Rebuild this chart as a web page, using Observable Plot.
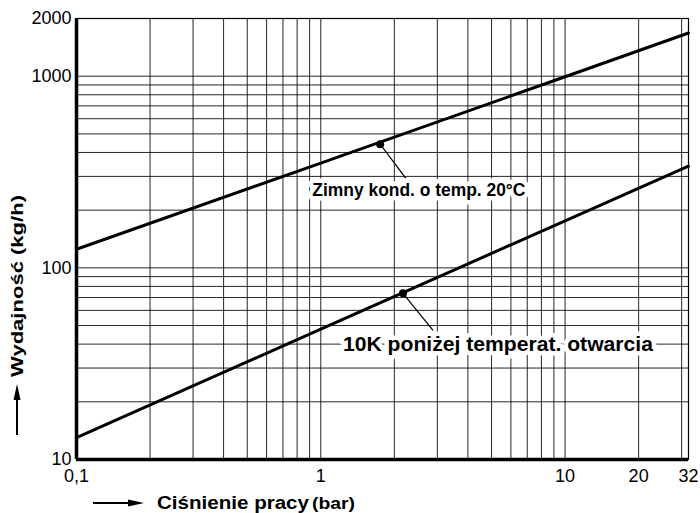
<!DOCTYPE html>
<html>
<head>
<meta charset="utf-8">
<script src="https://cdn.jsdelivr.net/npm/d3@7"></script>
<script src="https://cdn.jsdelivr.net/npm/@observablehq/plot@0.6"></script>
<style>
  html, body { margin: 0; padding: 0; background: #fff; }
  #chart { width: 700px; height: 513px; }
</style>
</head>
<body>
<div id="chart"></div>
<script>
// ---- data ----
const pressure = [0.1, 1, 10, 32];                 // bar
const coldCondensate20C = [125, 352, 993, 1680];   // kg/h
const below10K = [13, 47.9, 176, 339];             // kg/h

const xTicks = [0.1, 1, 10, 20, 32];
const xTickLabels = ["0,1", "1", "10", "20", "32"];
const yTicks = [10, 100, 1000, 2000];
const yTickLabels = ["10", "100", "1000", "2000"];

const xGrid = [0.2,0.3,0.4,0.5,0.6,0.7,0.8,0.9,1,2,3,4,5,6,7,8,9,10,20,30];
const yGrid = [20,30,40,50,60,70,80,90,100,200,300,400,500,600,700,800,900,1000];

const seriesNames = ["Zimny kond. o temp. 20°C", "10K poniżej temperat. otwarcia"];
const markerX = [1.75, 2.17];
const markerY = [442, 73.6];
const leaderEndX = [2.23, 2.88];
const leaderEndY = [293, 47.2];
const labelX = [2.52, 5.31];
const labelY = [254, 39.9];
const labelSize = [17.5, 21];
const labelWidth = [213, 310];

const lineRows = [];
pressure.forEach((p, i) => lineRows.push({s: seriesNames[0], x: p, y: coldCondensate20C[i]}));
pressure.forEach((p, i) => lineRows.push({s: seriesNames[1], x: p, y: below10K[i]}));
const annot = seriesNames.map((s, i) => ({
  s, mx: markerX[i], my: markerY[i], ex: leaderEndX[i], ey: leaderEndY[i],
  lx: labelX[i], ly: labelY[i], fs: labelSize[i], w: labelWidth[i]
}));

const font = "'Liberation Sans', Arial, Helvetica, sans-serif";

const chart = Plot.plot({
  width: 700,
  height: 513,
  marginLeft: 76,
  marginRight: 12,
  marginTop: 18,
  marginBottom: 54,
  style: {fontFamily: font, background: "#fff", color: "#000", overflow: "visible"},
  x: {type: "log", domain: [0.1, 32]},
  y: {type: "log", domain: [10, 2000]},
  marks: [
    Plot.ruleX(xGrid, {stroke: "#000", strokeWidth: 1, strokeOpacity: 0.85}),
    Plot.ruleY(yGrid, {stroke: "#000", strokeWidth: 1, strokeOpacity: 0.85}),
    Plot.frame({stroke: "#000", strokeWidth: 1.2}),
    Plot.ruleX([0.1], {stroke: "#000", strokeWidth: 3.5}),
    Plot.ruleY([10], {stroke: "#000", strokeWidth: 3.5}),
    Plot.line(lineRows, {x: "x", y: "y", z: "s", stroke: "#000", strokeWidth: 3}),
    Plot.link(annot, {x1: "mx", y1: "my", x2: "ex", y2: "ey", stroke: "#000", strokeWidth: 1.2}),
    Plot.dot(annot, {x: "mx", y: "my", r: 4, fill: "#000"}),
    Plot.text(annot, {x: "lx", y: "ly", text: "s", fontWeight: "bold", fontSize: "fs",
      fill: "#000", stroke: "#fff", strokeWidth: 9, paintOrder: "stroke", fontFamily: font,
      className: "annot-label"}),
    Plot.axisX(xTicks, {tickSize: 0, tickPadding: 10, fontSize: 18, label: null, fontFamily: font,
      tickFormat: d => xTickLabels[xTicks.indexOf(d)]}),
    Plot.axisY(yTicks, {tickSize: 0, tickPadding: 5, fontSize: 18, label: null, fontFamily: font,
      tickFormat: d => yTickLabels[yTicks.indexOf(d)]})
  ]
});
document.getElementById("chart").appendChild(chart);

const svg = d3.select(chart);
// stretch annotation labels to the widths seen in the reference
svg.selectAll(".annot-label text").each(function() {
  const idx = seriesNames.indexOf(this.textContent);
  if (idx >= 0) {
    d3.select(this).attr("textLength", labelWidth[idx]).attr("lengthAdjust", "spacingAndGlyphs");
  }
});

// axis titles and arrows (margin decoration)
const g = svg.append("g").attr("font-family", font).attr("font-weight", "bold").attr("fill", "#000");
// y arrow (pointing up)
g.append("line").attr("x1", 17).attr("y1", 435).attr("x2", 17).attr("y2", 398)
  .attr("stroke", "#000").attr("stroke-width", 2);
g.append("path").attr("d", "M17,384 L13.5,400 L20.5,400 Z").attr("fill", "#000");
// y title
g.append("text").attr("transform", "translate(23,286) rotate(-90)")
  .attr("text-anchor", "middle").attr("font-size", 16)
  .attr("textLength", 182).attr("lengthAdjust", "spacingAndGlyphs")
  .text("Wydajność (kg/h)");
// x arrow (pointing right)
g.append("line").attr("x1", 93).attr("y1", 503).attr("x2", 130).attr("y2", 503)
  .attr("stroke", "#000").attr("stroke-width", 2);
g.append("path").attr("d", "M144,503 L128,499.5 L128,506.5 Z").attr("fill", "#000");
// x title
g.append("text").attr("x", 157).attr("y", 509).attr("text-anchor", "start")
  .attr("font-size", 18).attr("textLength", 152).attr("lengthAdjust", "spacingAndGlyphs")
  .text("Ciśnienie pracy");
g.append("text").attr("x", 312).attr("y", 509).attr("text-anchor", "start")
  .attr("font-size", 16).attr("textLength", 43).attr("lengthAdjust", "spacingAndGlyphs")
  .text("(bar)");
</script>
</body>
</html>
